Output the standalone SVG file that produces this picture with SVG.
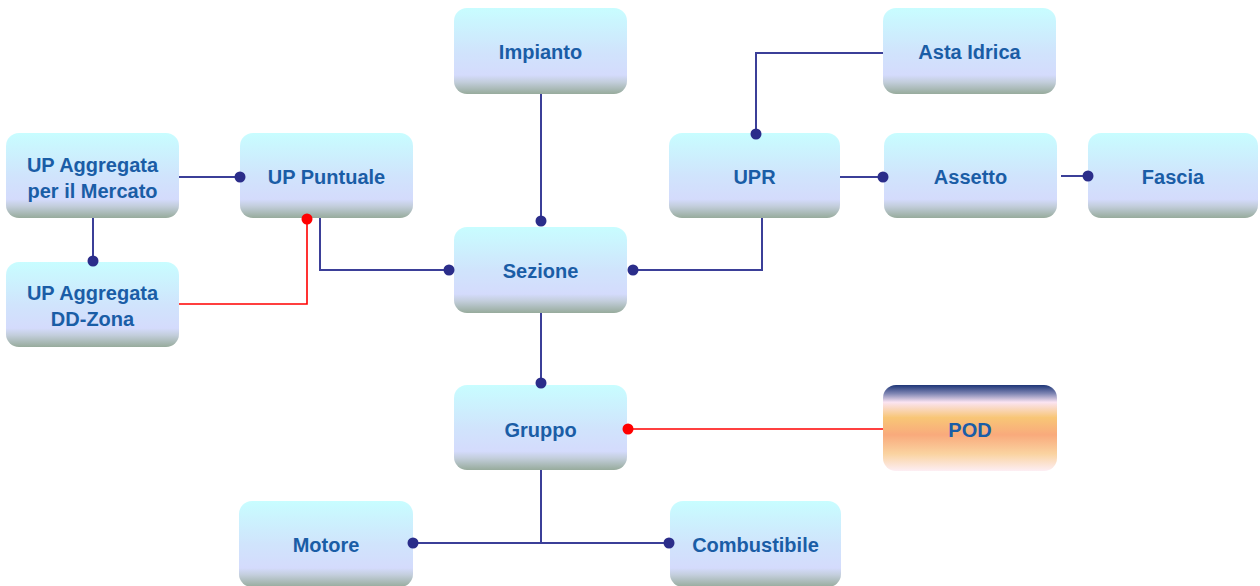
<svg xmlns="http://www.w3.org/2000/svg" width="1260" height="586" viewBox="0 0 1260 586">
  <defs>
    <linearGradient id="boxFill" x1="0" y1="0" x2="0" y2="1">
      <stop offset="0" stop-color="#c8fdff"/>
      <stop offset="0.5" stop-color="#d0e4fc"/>
      <stop offset="0.78" stop-color="#d4dbfc"/>
      <stop offset="0.86" stop-color="#c3cedc"/>
      <stop offset="1" stop-color="#97ab9c"/>
    </linearGradient>
    <linearGradient id="podFill" x1="0" y1="0" x2="0" y2="1">
      <stop offset="0" stop-color="#1d3577"/>
      <stop offset="0.1" stop-color="#7f86b3"/>
      <stop offset="0.2" stop-color="#fbe4f2"/>
      <stop offset="0.38" stop-color="#f8c676"/>
      <stop offset="0.58" stop-color="#f9aa7c"/>
      <stop offset="0.8" stop-color="#fad3a0"/>
      <stop offset="1" stop-color="#fdeef4"/>
    </linearGradient>
  </defs>
  <style>
    .box { fill: url(#boxFill); }
    .pod { fill: url(#podFill); }
    .lbl { font-family: "Liberation Sans", Arial, sans-serif; font-weight: bold; font-size: 20px; fill: #1a5da6; text-anchor: middle; }
    .wire { fill: none; stroke: #3b3f98; stroke-width: 2; }
    .wire-red { fill: none; stroke: #ff0000; stroke-width: 1.6; }
    .dot { fill: #2b2d8a; }
    .dot-red { fill: #ff0000; }
  </style>

  <!-- nodes -->
  <g id="impianto">
    <rect class="box" x="454" y="8" width="173" height="86" rx="13"/>
    <text class="lbl" x="540.5" y="59">Impianto</text>
  </g>
  <g id="asta-idrica">
    <rect class="box" x="883" y="8" width="173" height="86" rx="13"/>
    <text class="lbl" x="969.5" y="59">Asta Idrica</text>
  </g>
  <g id="up-aggregata-mercato">
    <rect class="box" x="6" y="133" width="173" height="85" rx="13"/>
    <text class="lbl" x="92.5" y="172">UP Aggregata</text>
    <text class="lbl" x="92.5" y="198">per il Mercato</text>
  </g>
  <g id="up-puntuale">
    <rect class="box" x="240" y="133" width="173" height="85" rx="13"/>
    <text class="lbl" x="326.5" y="184">UP Puntuale</text>
  </g>
  <g id="upr">
    <rect class="box" x="669" y="133" width="171" height="85" rx="13"/>
    <text class="lbl" x="754.5" y="184">UPR</text>
  </g>
  <g id="assetto">
    <rect class="box" x="884" y="133" width="173" height="85" rx="13"/>
    <text class="lbl" x="970.5" y="184">Assetto</text>
  </g>
  <g id="fascia">
    <rect class="box" x="1088" y="133" width="170" height="85" rx="13"/>
    <text class="lbl" x="1173" y="184">Fascia</text>
  </g>
  <g id="sezione">
    <rect class="box" x="454" y="227" width="173" height="86" rx="13"/>
    <text class="lbl" x="540.5" y="278">Sezione</text>
  </g>
  <g id="up-aggregata-dd-zona">
    <rect class="box" x="6" y="262" width="173" height="85" rx="13"/>
    <text class="lbl" x="92.5" y="300">UP Aggregata</text>
    <text class="lbl" x="92.5" y="326">DD-Zona</text>
  </g>
  <g id="gruppo">
    <rect class="box" x="454" y="385" width="173" height="85" rx="13"/>
    <text class="lbl" x="540.5" y="437">Gruppo</text>
  </g>
  <g id="pod">
    <rect class="pod" x="883" y="385" width="174" height="86" rx="13"/>
    <text class="lbl" x="970" y="437">POD</text>
  </g>
  <g id="motore">
    <rect class="box" x="239" y="501" width="174" height="86" rx="13"/>
    <text class="lbl" x="326" y="552">Motore</text>
  </g>
  <g id="combustibile">
    <rect class="box" x="670" y="501" width="171" height="86" rx="13"/>
    <text class="lbl" x="755.5" y="552">Combustibile</text>
  </g>

  <!-- connectors, drawn last so the end dots sit over the box edges -->
  <g id="connectors">
    <path class="wire" d="M179,177 H240"/>
    <circle class="dot" cx="240" cy="177" r="5.5"/>
    <path class="wire" d="M93,218 V261"/>
    <circle class="dot" cx="93" cy="261" r="5.5"/>
    <path class="wire-red" d="M179,304 H307 V219"/>
    <circle class="dot-red" cx="307" cy="219" r="5.5"/>
    <path class="wire" d="M320,218 V270 H449"/>
    <circle class="dot" cx="449" cy="270" r="5.5"/>
    <path class="wire" d="M541,94 V221"/>
    <circle class="dot" cx="541" cy="221" r="5.5"/>
    <path class="wire" d="M762,218 V270 H633"/>
    <circle class="dot" cx="633" cy="270" r="5.5"/>
    <path class="wire" d="M883,53 H756 V134"/>
    <circle class="dot" cx="756" cy="134" r="5.5"/>
    <path class="wire" d="M840,177 H883"/>
    <circle class="dot" cx="883" cy="177" r="5.5"/>
    <path class="wire" d="M1061,176 H1088"/>
    <circle class="dot" cx="1088" cy="176" r="5.5"/>
    <path class="wire" d="M541,313 V383"/>
    <circle class="dot" cx="541" cy="383" r="5.5"/>
    <path class="wire-red" d="M628,429 H883"/>
    <circle class="dot-red" cx="628" cy="429" r="5.5"/>
    <path class="wire" d="M541,470 V543 M413,543 H669"/>
    <circle class="dot" cx="413" cy="543" r="5.5"/>
    <circle class="dot" cx="669" cy="543" r="5.5"/>
  </g>
</svg>
